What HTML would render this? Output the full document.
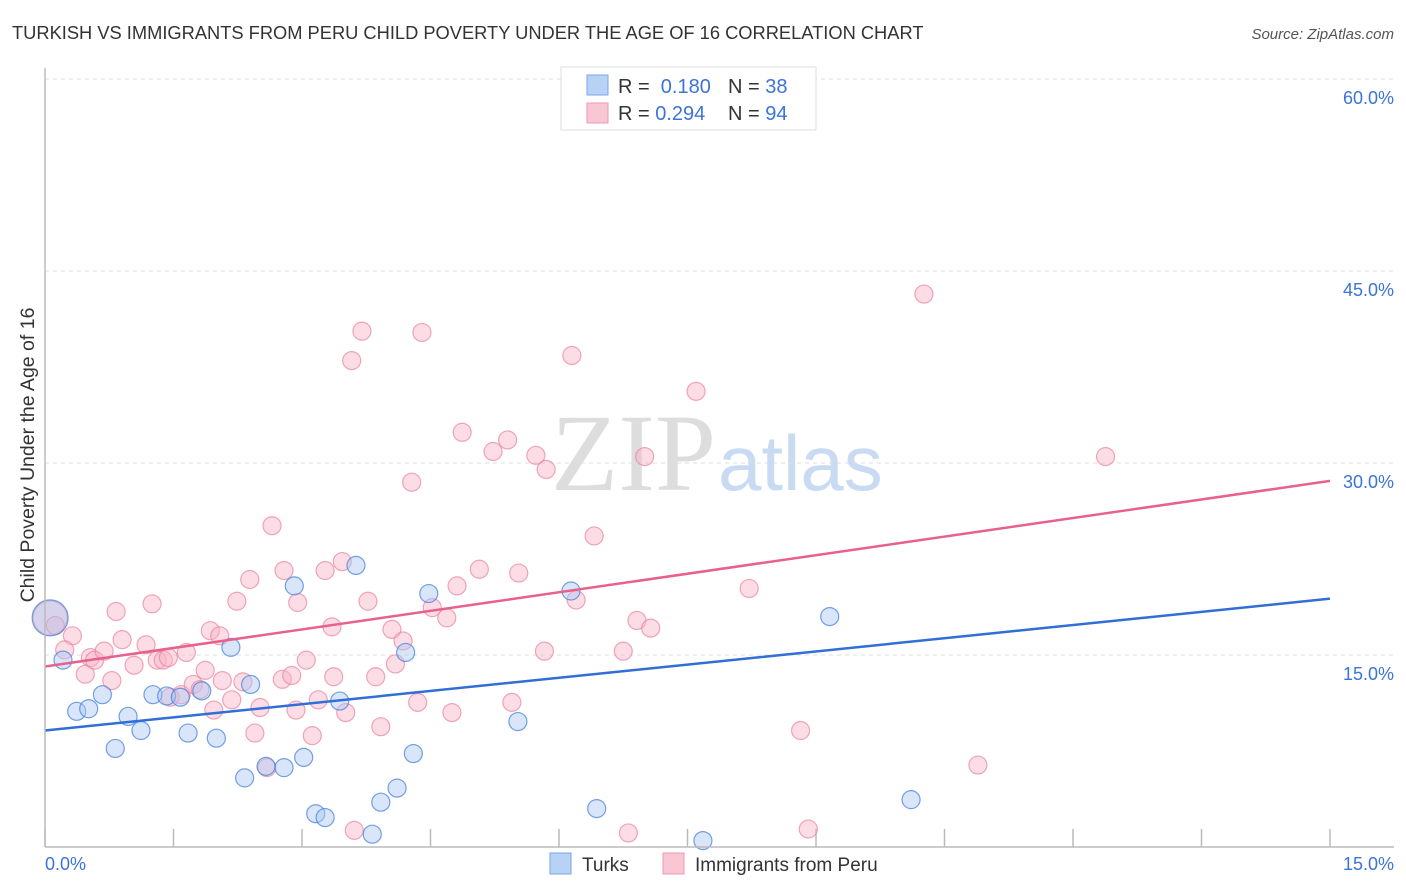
<!DOCTYPE html>
<html><head><meta charset="utf-8"><style>
body{margin:0;background:#fff;font-family:"Liberation Sans",sans-serif;}
#wrap{position:relative;width:1406px;height:892px;overflow:hidden;}
</style></head><body>
<div id="wrap">
<svg id="svg" width="1406" height="892" xmlns="http://www.w3.org/2000/svg">
<text x="12" y="39" font-size="18.3" fill="#333">TURKISH VS IMMIGRANTS FROM PERU CHILD POVERTY UNDER THE AGE OF 16 CORRELATION CHART</text>
<text x="1394" y="39" font-size="15" fill="#555" font-style="italic" text-anchor="end">Source: ZipAtlas.com</text>
<text x="716" y="490" font-size="110" fill="#ddd" text-anchor="end" font-family="Liberation Serif,serif">ZIP</text>
<text x="718" y="490" font-size="78" fill="#c9daf3">atlas</text>
<text transform="translate(34,455) rotate(-90)" font-size="19.5" fill="#333" text-anchor="middle">Child Poverty Under the Age of 16</text>
<g id="grid"></g><g id="pts"></g><g id="lines"></g>
<line x1="45" y1="68" x2="45" y2="847" stroke="#bbb" stroke-width="1.5"/>
<line x1="45" y1="847" x2="1394" y2="847" stroke="#bbb" stroke-width="1.5"/>
<text x="45" y="870" font-size="18" fill="#3b74d6">0.0%</text>
<text x="1394" y="870" font-size="18" fill="#3b74d6" text-anchor="end">15.0%</text>
<g>
<rect x="561" y="67" width="255" height="63" fill="#fff" stroke="#ddd"/>
<rect x="587" y="75" width="21" height="20" fill="#b8d2f5" stroke="#7aa6e6"/>
<rect x="587" y="103" width="21" height="20" fill="#f9c6d4" stroke="#ee9ab2"/>
<text x="618" y="93" font-size="20" fill="#333">R = <tspan fill="#3b74d6">&#160;0.180</tspan><tspan x="728">N = </tspan><tspan fill="#3b74d6">38</tspan></text>
<text x="618" y="120" font-size="20" fill="#333">R = <tspan fill="#3b74d6">0.294</tspan><tspan x="728">N = </tspan><tspan fill="#3b74d6">94</tspan></text>
</g>
<g>
<rect x="550" y="853" width="21" height="21" fill="#b8d2f5" stroke="#7aa6e6"/>
<text x="582" y="871" font-size="19" fill="#333">Turks</text>
<rect x="663" y="853" width="21" height="21" fill="#f9c6d4" stroke="#ee9ab2"/>
<text x="695" y="871" font-size="19" fill="#333">Immigrants from Peru</text>
</g>
</svg>
</div>
<script>
const yTicks=[15,30,45,60];
const xTicks=[0,1.5,3,4.5,6,7.5,9,10.5,12,13.5,15];
const turksX=[0.06,0.21,0.37,0.51,0.67,0.82,0.97,1.12,1.26,1.42,1.58,1.67,1.83,2.0,2.17,2.33,2.40,2.58,2.79,2.91,3.02,3.16,3.27,3.44,3.63,3.82,3.92,4.11,4.21,4.30,4.48,5.52,6.14,6.44,7.68,8.38,9.16,10.11];
const turksY=[17.9,14.6,10.6,10.8,11.9,7.7,10.2,9.1,11.9,11.8,11.7,8.9,12.2,8.5,15.6,5.4,12.7,6.3,6.2,20.4,7.0,2.6,2.3,11.4,22.0,1.0,3.5,4.6,15.2,7.3,19.8,9.8,20.0,3.0,0.5,57.2,18.0,3.7];
const peruX=[0.06,0.12,0.32,0.23,0.47,0.53,0.58,0.69,0.78,0.83,0.90,1.04,1.18,1.25,1.31,1.38,1.44,1.46,1.59,1.65,1.73,1.81,1.87,1.93,1.97,2.04,2.07,2.18,2.24,2.31,2.39,2.45,2.51,2.59,2.65,2.77,2.79,2.88,2.93,2.95,3.05,3.12,3.19,3.27,3.35,3.37,3.47,3.51,3.58,3.70,3.77,3.86,3.92,4.05,4.09,4.18,4.28,4.35,4.40,4.52,4.69,4.75,4.81,4.87,5.07,5.23,5.40,5.45,5.53,5.73,5.83,5.85,6.15,6.20,6.41,6.75,6.81,6.91,7.00,7.07,7.60,8.22,8.82,8.91,10.26,10.89,12.38,3.61];
const peruY=[17.9,17.3,16.5,15.4,13.5,14.8,14.6,15.3,13.0,18.4,16.2,14.2,15.8,19.0,14.6,14.6,14.8,11.7,11.9,15.2,12.7,12.3,13.8,16.9,10.7,16.5,13.0,11.5,19.2,12.9,20.9,8.9,10.9,6.2,25.1,13.1,21.6,13.4,10.7,19.1,14.6,8.7,11.5,21.6,17.2,13.3,22.3,10.5,38.0,40.3,19.2,13.3,9.4,17.0,14.3,16.1,28.5,11.3,40.2,18.7,17.9,10.5,20.4,32.4,21.7,30.9,31.8,11.3,21.4,30.6,15.3,29.5,38.4,19.3,24.3,15.3,1.1,17.7,30.5,17.1,35.6,20.2,9.1,1.4,43.2,6.4,30.5,1.3];
const turksLine=[9.1,19.4];
const peruLine=[14.1,28.6];
const xs=v=>45+v/15*1285, ys=v=>847-v*12.8;
const NS="http://www.w3.org/2000/svg";
function mk(t,a,p){const e=document.createElementNS(NS,t);for(const k in a)e.setAttribute(k,a[k]);p.appendChild(e);return e;}
const grid=document.getElementById('grid');
yTicks.forEach(t=>{
 const l=mk('line',{x1:45,x2:1394,y1:ys(t),y2:ys(t),stroke:'#ddd','stroke-dasharray':'4,4'},grid);
 
 
 const tx=mk('text',{x:1394,y:ys(t)+25,'font-size':18,fill:'#3b74d6','text-anchor':'end'},grid);
 tx.textContent=t.toFixed(1)+'%';
 
 
});
xTicks.forEach(t=>{
 const l=mk('line',{x1:xs(t),x2:xs(t),y1:829,y2:847,stroke:'#bbb','stroke-width':1.5},grid);
 
 
});
const pts=document.getElementById('pts');
function dot(x,y,r,f,s,name){
 const c=mk('circle',{cx:xs(x),cy:ys(y),r:r,fill:f,stroke:s,'stroke-width':1.2},pts);
 
 
}
peruX.forEach((x,i)=>dot(x,peruY[i],i==0?17:9,'rgba(248,180,200,0.45)','rgba(232,130,160,0.7)','peru-point'));
turksX.forEach((x,i)=>dot(x,turksY[i],i==0?18:9,'rgba(170,200,245,0.45)','rgba(70,130,220,0.75)','turks-point'));
const lines=document.getElementById('lines');
const bl=mk('line',{x1:xs(0),y1:ys(turksLine[0]),x2:xs(15),y2:ys(turksLine[1]),stroke:'#2f6fd6','stroke-width':2.5},lines);


const pl=mk('line',{x1:xs(0),y1:ys(peruLine[0]),x2:xs(15),y2:ys(peruLine[1]),stroke:'#e8608c','stroke-width':2.5},lines);


</script>
</body></html>
